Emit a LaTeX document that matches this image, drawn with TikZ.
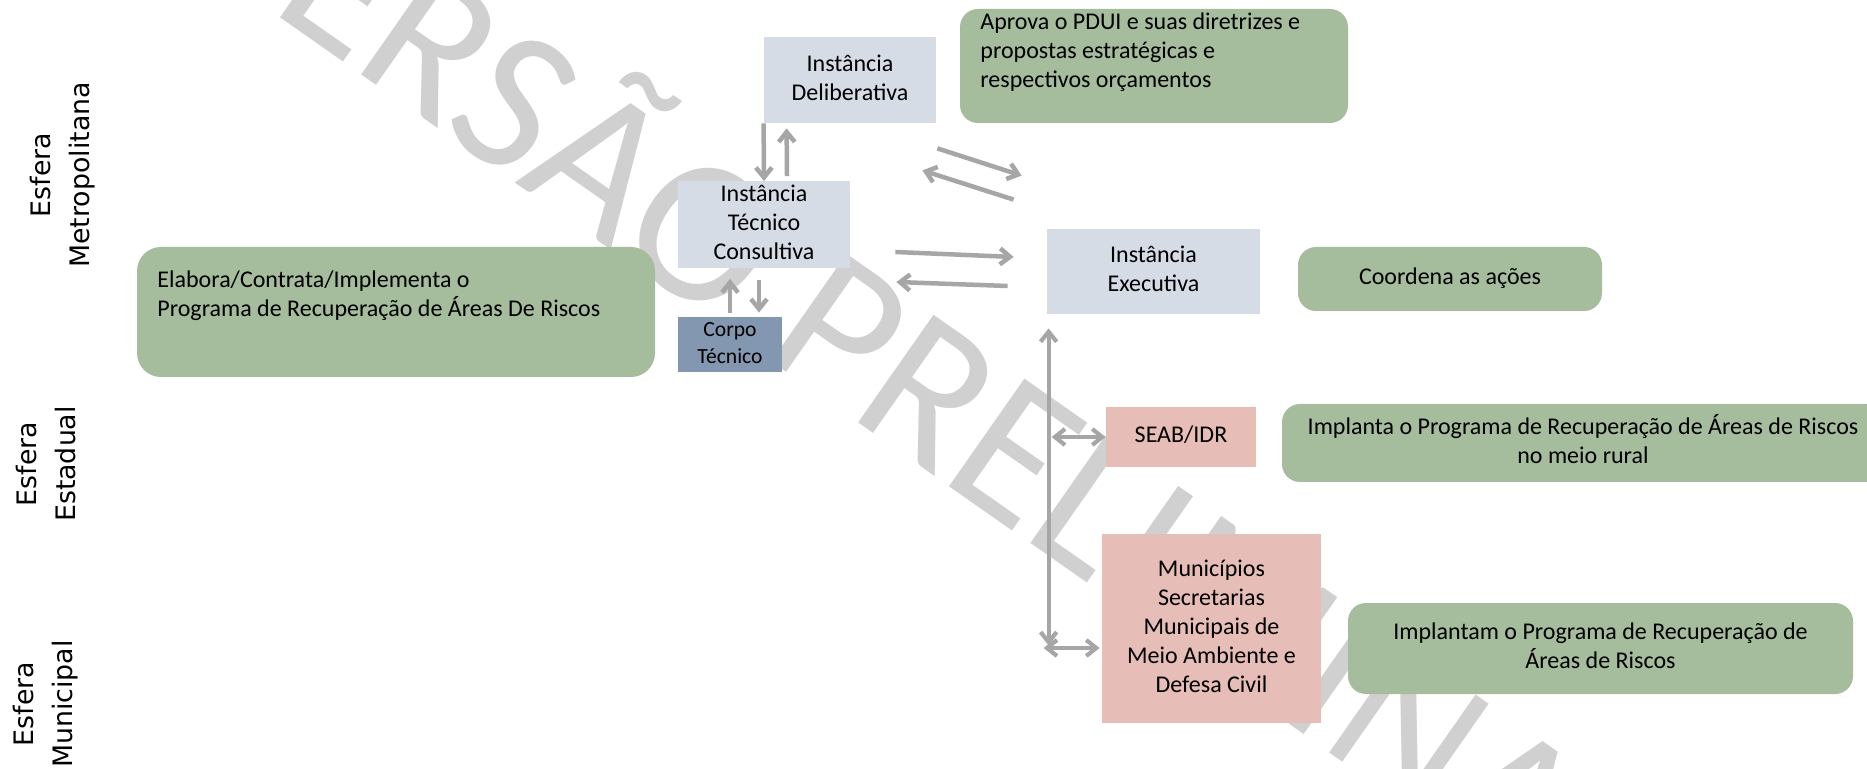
\documentclass[tikz,border=0pt]{standalone}
\usepackage{fontspec}
\setmainfont{Carlito}
\newfontfamily\labelfont{DejaVu Sans}
\usetikzlibrary{arrows.meta,calc}

\definecolor{panelblue}{HTML}{D6DCE5}
\definecolor{teamblue}{HTML}{8497B0}
\definecolor{actiongreen}{HTML}{A5BC9D}
\definecolor{unitpink}{HTML}{E6BDB7}
\definecolor{arrowgray}{HTML}{A6A6A6}
\definecolor{wmgray}{HTML}{D0D0D0}

% centred and top-aligned stacks of lines (rows carry struts, so spacing is even)
\newcommand{\cstack}[1]{\begin{tabular}{@{}c@{}}#1\end{tabular}}
\newcommand{\lstack}[1]{\begin{tabular}[t]{@{}l@{}}#1\end{tabular}}

\begin{document}
\begin{tikzpicture}[x=0.5pt,y=-0.5pt,
  boxfont/.style={font=\fontsize{12}{14.5}\selectfont},
  panel/.style={inner sep=0pt, boxfont, text=black},
  stage/.style={panel, fill=panelblue},
  team/.style={panel, fill=teamblue, font=\fontsize{10.8}{13.5}\selectfont},
  unit/.style={panel, fill=unitpink},
  action/.style={panel, fill=actiongreen, rounded corners=9pt},
  textblock/.style={boxfont, anchor=base west, inner sep=0pt, text=black},
  sidelabel/.style={rotate=90, inner sep=0pt, font=\labelfont\fontsize{13.4}{19.5}\selectfont},
  watermark/.style={anchor=base west, rotate=-35, inner sep=0pt, text=wmgray,
    font=\fontsize{102.5}{110}\selectfont},
  flow/.style={draw=arrowgray, line width=2.25pt, -{Straight Barb[length=5pt,width=8pt]}},
  flowboth/.style={draw=arrowgray, line width=2.1pt,
    {Straight Barb[length=5pt,width=8pt]}-{Straight Barb[length=5pt,width=8pt]}}
]
\clip (0,0) rectangle (1867,769);
\fill[white] (0,0) rectangle (1867,769);

% background stamp
\node[watermark] (stamp) at (172.5,-57.4) {VERSÃO PRELIMINAR};

% spheres
\node[sidelabel] (metro) at (62,175) {\cstack{Esfera\\Metropolitana}};
\node[sidelabel] (estad) at (48,464) {\cstack{Esfera\\Estadual}};
\node[sidelabel] (munic) at (45,704) {\cstack{Esfera\\Municipal}};

% metropolitan bodies
\node[stage, minimum width=86pt, minimum height=43pt] (delib) at (850,80)
  {\cstack{Instância\\Deliberativa}};
\node[stage, minimum width=86pt, minimum height=42pt] (tec) at (764,225)
  {\cstack{Instância\\Técnico\\Consultiva}};
\node[team, minimum width=52pt, minimum height=27.5pt] (corpo) at (730,344.5)
  {\cstack{Corpo\\Técnico}};
\node[stage, minimum width=106.5pt, minimum height=42.5pt] (exec) at (1153.5,271.5)
  {\cstack{Instância\\Executiva}};

% state and municipal bodies
\node[unit, minimum width=75pt, minimum height=30pt] (seab) at (1181,437)
  {\cstack{SEAB/IDR}};
\node[unit, minimum width=109.5pt, minimum height=94.5pt] (muni) at (1211.5,628.5)
  {\cstack{Municípios\\Secretarias\\Municipais de\\Meio Ambiente e\\Defesa Civil}};

% responsibilities
\node[action, minimum width=194pt, minimum height=57pt] (aprova) at (1154,66) {};
\node[textblock] (aprovatxt) at (980,30)
  {\lstack{Aprova o PDUI e suas diretrizes e\\propostas estratégicas e\\respectivos orçamentos}};
\node[action, rounded corners=12pt, minimum width=259pt, minimum height=65pt] (elabora) at (396,312) {};
\node[textblock] (elaboratxt) at (157,288)
  {\lstack{Elabora/Contrata/Implementa o\\Programa de Recuperação de Áreas De Riscos}};
\node[action, minimum width=152pt, minimum height=32pt] (coord) at (1450,279)
  {\cstack{Coordena as ações}};
\node[action, minimum width=301pt, minimum height=39pt] (rural) at (1583,443)
  {\cstack{Implanta o Programa de Recuperação de Áreas de Riscos\\no meio rural}};
\node[action, minimum width=252.5pt, minimum height=45.5pt] (urban) at (1600.5,648.5)
  {\cstack{Implantam o Programa de Recuperação de\\Áreas de Riscos}};

% exchanges between bodies
\draw[flow] (delib.south west) -- (tec.north);
\draw[flow] ($(tec.north)+(23,-5)$) -- ($(delib.south west)+(23,5)$);
\draw[flow] ($(corpo.north)+(0,-4)$) -- ($(tec.south)+(-34,10)$);
\draw[flow] ($(tec.south)+(-5,11)$) -- ($(corpo.north)+(29,-4)$);
\draw[flow] ($(tec.east)+(45,27)$) -- ($(exec.west)+(-33,-14.5)$);
\draw[flow] ($(exec.west)+(-39,14.5)$) -- ($(tec.east)+(46,57)$);
\draw[flow] ($(delib.south east)+(1,25)$) -- ($(exec.north west)+(-25,-53)$);
\draw[flow] ($(exec.north west)+(-33,-29)$) -- ($(delib.south east)+(-14,47)$);

% distribution bus below the executive body
\coordinate (bustop) at ($(exec.south west)+(2,14)$);
\coordinate (busbottom) at ($(exec.south west)+(2,331)$);
\draw[flowboth] (bustop) -- (busbottom);
\draw[flowboth] ($(seab.west)+(-54,0)$) -- (seab.west);
\draw[flowboth] ($(muni.west)+(-58,19.5)$) -- ($(muni.west)+(-2,19.5)$);
\end{tikzpicture}
\end{document}
